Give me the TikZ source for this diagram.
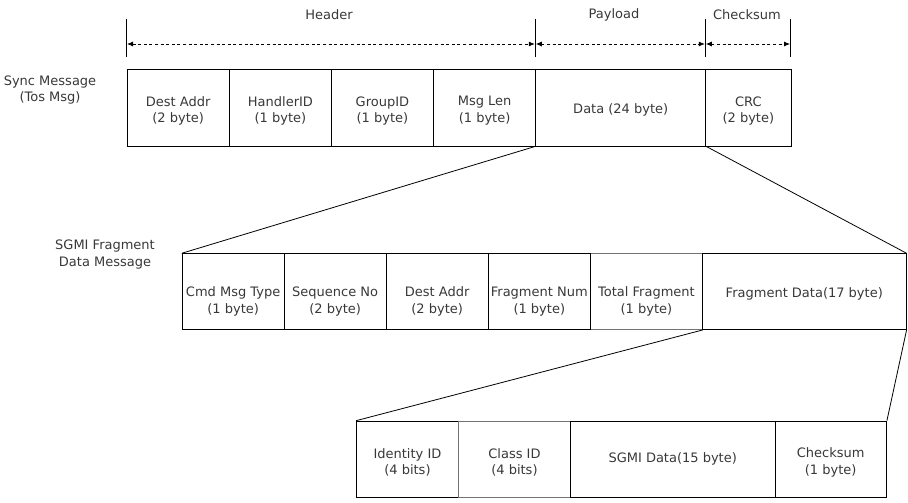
\documentclass[tikz,border=0pt]{standalone}
\usepackage{fontspec}
\setmainfont{DejaVu Sans}
\usetikzlibrary{arrows.meta}
\begin{document}
\begin{tikzpicture}[x=1pt,y=-1pt,
  field/.style={draw=black,line width=0.9pt,rectangle,inner sep=0pt,anchor=north west},
  greyfield/.style={field,draw=black!55},
  txt/.style={text=black!78,font=\fontsize{13}{16.5}\selectfont,align=center,inner sep=0pt},
  link/.style={draw=black,line width=0.8pt},
  tick/.style={draw=black,line width=0.9pt},
  dim/.style={draw=black,line width=0.8pt,dash pattern=on 3pt off 2.6pt,
    {Latex[length=6pt,width=5pt]}-{Latex[length=6pt,width=5pt]}}]
\useasboundingbox (0,0) rectangle (908,503);

% ---------- Row 1 ----------
\node[field,minimum width=102.5pt,minimum height=76.2pt] (dest) at (126.5,69.3) {};
\node[field,minimum width=102pt,minimum height=76.2pt] (hand) at (229,69.3) {};
\node[field,minimum width=102pt,minimum height=76.2pt] (group) at (331,69.3) {};
\node[field,minimum width=102.3pt,minimum height=76.2pt] (mlen) at (433,69.3) {};
\node[field,minimum width=170pt,minimum height=76.2pt] (data) at (535.3,69.3) {};
\node[field,minimum width=85.2pt,minimum height=76.2pt] (crc) at (705.3,69.3) {};

\node[txt] (tdest) at ([yshift=-3pt]dest.center) {Dest Addr\\(2 byte)};
\node[txt] (thand) at ([yshift=-3pt]hand.center) {HandlerID\\(1 byte)};
\node[txt] (tgroup) at ([yshift=-3pt]group.center) {GroupID\\(1 byte)};
\node[txt] (tmlen) at ([yshift=-3pt]mlen.center) {Msg Len\\(1 byte)};
\node[txt] (tdata) at ([yshift=-2pt]data.center) {Data (24 byte)};
\node[txt] (tcrc) at ([yshift=-3pt]crc.center) {CRC\\(2 byte)};

\node[txt] (sync) at (50,90) {Sync Message\\(Tos Msg)};

% dimension lines
\coordinate (k1a) at (126.5,19); \coordinate (k1b) at (126.5,57);
\coordinate (k2a) at (535.3,19); \coordinate (k2b) at (535.3,57);
\coordinate (k3a) at (705.3,19); \coordinate (k3b) at (705.3,57);
\coordinate (k4a) at (790.5,19); \coordinate (k4b) at (790.5,57);
\draw[tick] (k1a) -- (k1b);
\draw[tick] (k2a) -- (k2b);
\draw[tick] (k3a) -- (k3b);
\draw[tick] (k4a) -- (k4b);
\coordinate (d1) at (127,44); \coordinate (d2l) at (534.8,44);
\coordinate (d2r) at (535.8,44); \coordinate (d3l) at (704.8,44);
\coordinate (d3r) at (705.8,44); \coordinate (d4) at (790,44);
\draw[dim] (d1) -- (d2l);
\draw[dim] (d2r) -- (d3l);
\draw[dim] (d3r) -- (d4);
\node[txt] (lhead) at (329,15) {Header};
\node[txt] (lpay) at (614,15) {Payload};
\node[txt] (lchk) at (747,15) {Checksum};

% ---------- Row 2 ----------
\node[greyfield,minimum width=112pt,minimum height=75.7pt] (total) at (590,253.3) {};
\node[field,minimum width=102pt,minimum height=75.7pt] (cmd) at (181.7,253.3) {};
\node[field,minimum width=102pt,minimum height=75.7pt] (seq) at (283.7,253.3) {};
\node[field,minimum width=102pt,minimum height=75.7pt] (dest2) at (385.7,253.3) {};
\node[field,minimum width=102.3pt,minimum height=75.7pt] (fnum) at (487.7,253.3) {};
\node[field,minimum width=203.7pt,minimum height=75.7pt] (fdata) at (702,253.3) {};

\node[txt] (tcmd) at ([yshift=-10pt]cmd.center) {Cmd Msg Type\\(1 byte)};
\node[txt] (tseq) at ([yshift=-10pt]seq.center) {Sequence No\\(2 byte)};
\node[txt] (tdest2) at ([yshift=-10pt]dest2.center) {Dest Addr\\(2 byte)};
\node[txt] (tfnum) at ([yshift=-10pt]fnum.center) {Fragment Num\\(1 byte)};
\node[txt] (ttotal) at ([yshift=-10pt]total.center) {Total Fragment\\(1 byte)};
\node[txt] (tfdata) at ([yshift=-2pt]fdata.center) {Fragment Data(17 byte)};

\node[txt] (sgmi) at (105,254.5) {SGMI Fragment\\Data Message};

% ---------- Row 3 ----------
\node[field,minimum width=102pt,minimum height=76.3pt] (ident) at (356,420.7) {};
\node[greyfield,minimum width=112pt,minimum height=76.3pt] (cls) at (458,420.7) {};
\node[field,minimum width=204.5pt,minimum height=76.3pt] (sdata) at (570,420.7) {};
\node[field,minimum width=111.5pt,minimum height=76.3pt] (chk3) at (774.5,420.7) {};

\node[txt] (tident) at ([yshift=-3pt]ident.center) {Identity ID\\(4 bits)};
\node[txt] (tcls) at ([yshift=-3pt]cls.center) {Class ID\\(4 bits)};
\node[txt] (tsdata) at ([yshift=0pt]sdata.center) {SGMI Data(15 byte)};
\node[txt] (tchk3) at ([yshift=-3pt]chk3.center) {Checksum\\(1 byte)};

% ---------- connectors ----------
\draw[link] (data.south west) -- (cmd.north west);
\draw[link] (data.south east) -- (fdata.north east);
\draw[link] (total.south east) -- (ident.north west);
\draw[link] (fdata.south east) -- (chk3.north east);
\end{tikzpicture}
\end{document}
